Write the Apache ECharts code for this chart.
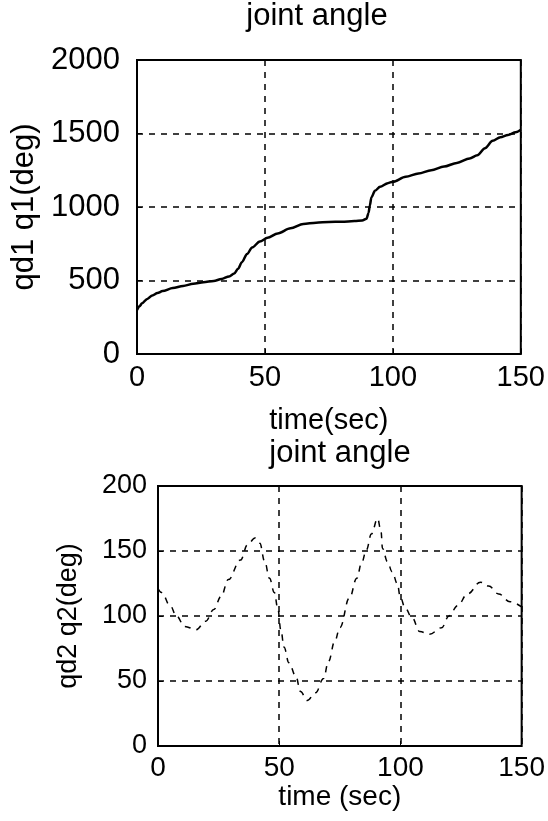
<!DOCTYPE html>
<html>
<head>
<meta charset="utf-8">
<script src="https://cdn.jsdelivr.net/npm/echarts@6/dist/echarts.min.js"></script>
<style>
  html, body { margin: 0; padding: 0; background: #fff; }
  #chart { width: 548px; height: 821px; }
</style>
</head>
<body>
<div id="chart"></div>
<script>
// joint 1 (solid line)
const t1 = [0, 1, 2, 4, 6, 8, 10, 14, 18, 22, 26, 30, 33, 36, 38, 39.5, 41, 43, 45, 48, 51, 55, 60, 65, 70, 75, 80, 85, 88, 89.7, 90.5, 91, 91.6, 93, 95, 98, 100, 105, 110, 115, 120, 125, 130, 133, 136, 139, 142, 145, 148, 150];
const q1 = [300, 325, 345, 375, 398, 415, 428, 449, 463, 478, 488, 497, 510, 528, 548, 580, 625, 680, 725, 765, 790, 820, 855, 885, 893, 898, 900, 904, 908, 920, 960, 1010, 1065, 1110, 1138, 1162, 1172, 1205, 1228, 1250, 1275, 1300, 1330, 1352, 1400, 1450, 1475, 1490, 1508, 1525];

// joint 2 (dashed line)
const t2 = [0, 1.5, 5, 7.6, 11, 15.7, 19.7, 23, 26, 29, 34, 37, 40, 42, 44, 46, 48, 49.4, 50.7, 52, 54, 56.8, 58.8, 61.5, 65, 68.3, 70.3, 73, 75, 79, 82, 84, 86, 88, 90.6, 92, 92.6, 94.6, 96.6, 98.7, 100, 102, 104.7, 108, 112, 117, 120, 123.6, 127.7, 133, 136.4, 140.5, 145.2, 150];
const q2 = [121, 118, 108, 100, 92, 89.5, 96, 105, 115, 128, 143, 155, 160, 156, 142, 129, 118, 106, 89, 76, 64, 54, 42, 35, 41, 52, 65, 81, 91, 114, 129, 141, 151, 163, 175, 165, 152, 142, 134, 125, 114, 106, 99, 88, 86, 91, 100, 108, 117, 126, 123, 117, 111, 107];

const xTicks = [0, 50, 100, 150];
const y1Ticks = [0, 500, 1000, 1500, 2000];
const y2Ticks = [0, 50, 100, 150, 200];

const FONT = '"Liberation Sans", Arial, sans-serif';

const zip = (xs, ys) => xs.map((x, i) => [x, ys[i]]);

const dashed = { show: true, lineStyle: { color: '#000', type: [6, 6], width: 1.5 } };

function xAxis(gridIndex, name, fontSize, nameGap, margin) {
  return {
    type: 'value', gridIndex,
    min: xTicks[0], max: xTicks[xTicks.length - 1], interval: 50,
    name, nameLocation: 'middle', nameGap,
    nameTextStyle: { color: '#000', fontSize, fontFamily: FONT },
    axisLine: { show: false },
    axisTick: { show: true, inside: true, length: 5, lineStyle: { color: '#000' } },
    axisLabel: { color: '#000', fontSize, fontFamily: FONT, margin, showMinLabel: true, showMaxLabel: true,
      formatter: v => String(v) },
    splitLine: dashed
  };
}

function yAxis(gridIndex, ticks, name, fontSize, nameGap, margin) {
  return {
    type: 'value', gridIndex,
    min: ticks[0], max: ticks[ticks.length - 1], interval: ticks[1] - ticks[0],
    name, nameLocation: 'middle', nameGap,
    nameTextStyle: { color: '#000', fontSize, fontFamily: FONT },
    axisLine: { show: false },
    axisTick: { show: true, inside: true, length: 5, lineStyle: { color: '#000' } },
    axisLabel: { color: '#000', fontSize, fontFamily: FONT, margin, formatter: v => String(v) },
    splitLine: dashed
  };
}

const chart = echarts.init(document.getElementById('chart'));
chart.setOption({
  animation: false,
  backgroundColor: '#fff',
  graphic: [
    { type: 'text', x: 317, y: 16, style: { text: 'joint angle', fill: '#000', font: '31px ' + FONT, align: 'center', verticalAlign: 'middle' } },
    { type: 'text', x: 340, y: 453, style: { text: 'joint angle', fill: '#000', font: '31px ' + FONT, align: 'center', verticalAlign: 'middle' } }
  ],
  grid: [
    { left: 137, top: 60, width: 384, height: 294, show: true, borderColor: '#000', borderWidth: 2, backgroundColor: 'transparent' },
    { left: 158, top: 486, width: 369, height: 260, show: true, borderColor: '#000', borderWidth: 2, backgroundColor: 'transparent' }
  ],
  xAxis: [
    xAxis(0, 'time(sec)', 29, 52, 9),
    xAxis(1, 'time (sec)', 28, 34, 8)
  ],
  yAxis: [
    yAxis(0, y1Ticks, 'qd1 q1(deg)', 31, 88, 17),
    yAxis(1, y2Ticks, 'qd2 q2(deg)', 27, 76, 11)
  ],
  series: [
    {
      type: 'line', xAxisIndex: 0, yAxisIndex: 0,
      data: zip(t1, q1), showSymbol: false, smooth: 0.3, smoothMonotone: 'x',
      lineStyle: { color: '#000', width: 2.5 }
    },
    {
      type: 'line', xAxisIndex: 1, yAxisIndex: 1,
      data: zip(t2, q2), showSymbol: false, smooth: 0.4, smoothMonotone: 'x',
      lineStyle: { color: '#000', width: 1.5, type: [6, 6] }
    }
  ]
});
</script>
</body>
</html>
